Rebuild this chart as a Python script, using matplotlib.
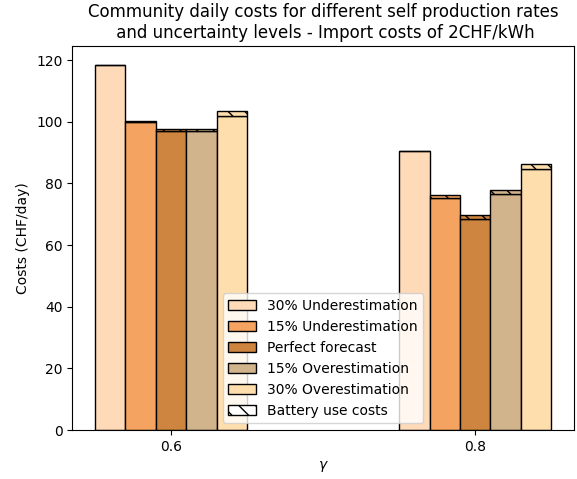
import numpy as np
import matplotlib
matplotlib.use("Agg")
import matplotlib.pyplot as plt
from matplotlib.patches import Patch

gammas = ["0.6", "0.8"]
scenarios = ["30% Underestimation", "15% Underestimation", "Perfect forecast",
             "15% Overestimation", "30% Overestimation"]
colors = ["peachpuff", "sandybrown", "peru", "tan", "navajowhite"]

# Energy costs (without battery) per scenario, for each gamma
energy_costs = [
    [118.3, 90.4],
    [100.0, 75.3],
    [97.0, 68.6],
    [97.0, 76.7],
    [102.0, 84.6],
]
# Battery use costs stacked on top
battery_costs = [
    [0.0, 0.0],
    [0.3, 0.8],
    [0.6, 1.0],
    [0.6, 1.3],
    [1.4, 1.6],
]

fig, ax = plt.subplots(figsize=(5.77, 4.79), dpi=100)
x = np.arange(len(gammas))
width = 0.1
offsets = (np.arange(len(scenarios)) - 2) * width

for i, name in enumerate(scenarios):
    ax.bar(x + offsets[i], energy_costs[i], width, color=colors[i],
           edgecolor="black", label=name)
    ax.bar(x + offsets[i], battery_costs[i], width, bottom=energy_costs[i],
           color=colors[i], edgecolor="black", hatch="\\\\")

handles, labels = ax.get_legend_handles_labels()
handles.append(Patch(facecolor="white", edgecolor="black", hatch="\\\\"))
labels.append("Battery use costs")
ax.legend(handles, labels, loc="lower center")

ax.set_ylim(0, 124.4)
ax.set_xticks(x)
ax.set_xticklabels(gammas)
ax.set_xlabel("$\\gamma$")
ax.set_ylabel("Costs (CHF/day)")
ax.set_title("Community daily costs for different self production rates\n"
             " and uncertainty levels - Import costs of 2CHF/kWh")

fig.subplots_adjust(left=0.125, right=0.995, top=0.903, bottom=0.102)
fig.savefig("out.png", dpi=100)
